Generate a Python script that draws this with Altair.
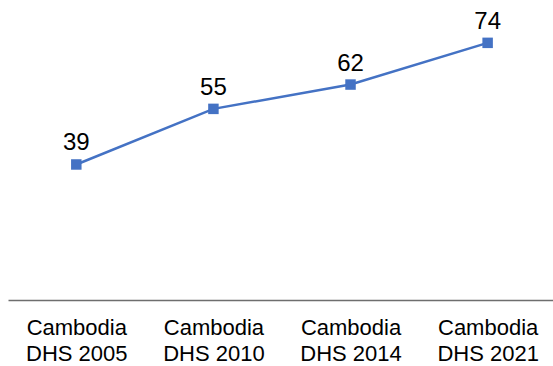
import altair as alt
import pandas as pd

surveys = ["Cambodia\nDHS 2005", "Cambodia\nDHS 2010", "Cambodia\nDHS 2014", "Cambodia\nDHS 2021"]
values = [39, 55, 62, 74]

df = pd.DataFrame({"survey": surveys, "value": values})

x_enc = alt.X(
    "survey:N",
    sort=surveys,
    title=None,
    scale=alt.Scale(type="point", padding=0.4875, align=0.511),
    axis=alt.Axis(
        labelExpr="split(datum.label, '\\n')",
        labelAngle=0,
        labelFont="Liberation Sans",
        labelFontSize=22,
        labelColor="#000000",
        labelLineHeight=26,
        labelPadding=17,
        ticks=False,
        grid=False,
        domainColor="#6e6e6e",
        domainWidth=1.5,
    ),
)
y_enc = alt.Y(
    "value:Q",
    title=None,
    scale=alt.Scale(domain=[0, 80], nice=False, zero=True),
    axis=None,
)

base = alt.Chart(df).encode(x=x_enc, y=y_enc)

line = base.mark_line(color="#4472C4", strokeWidth=2.5)
points = base.mark_point(shape="square", filled=True, size=110, color="#4472C4", opacity=1)
labels = base.mark_text(
    dy=-14, baseline="alphabetic", align="center",
    font="Liberation Sans", fontSize=24, color="#000000"
).encode(text="value:Q")

chart = (
    alt.layer(line, points, labels)
    .properties(
        width=545,
        height=278,
        autosize=alt.AutoSizeParams(type="none"),
        padding={"left": 8, "top": 22, "right": 0, "bottom": 66},
        background="white",
    )
    .configure_view(stroke=None)
)

chart.save("out.html", embed_options={"renderer": "svg", "actions": False})
